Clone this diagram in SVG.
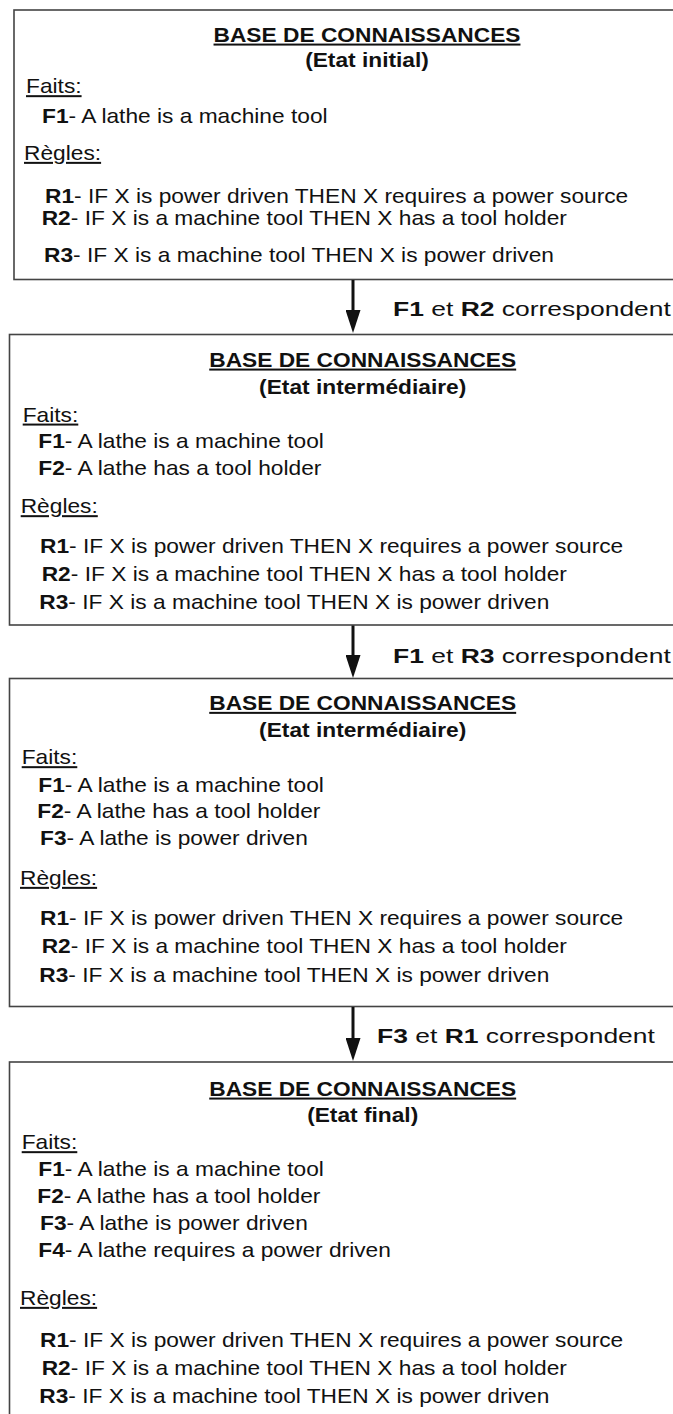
<svg xmlns="http://www.w3.org/2000/svg" width="673" height="1414" viewBox="0 0 673 1414">
<style>
.t{font-family:"Liberation Sans",Arial,Helvetica,sans-serif;font-size:20px;fill:#111}
.b{font-weight:bold}
.u{text-decoration:underline}
.box{fill:#fff;stroke:#444;stroke-width:1.6}
.lbl{font-family:"Liberation Sans",Arial,Helvetica,sans-serif;font-size:21px;fill:#111}
.conn{stroke:#111;stroke-width:3;fill:none}
</style>
<defs>
<marker id="ah" viewBox="0 0 23 15" refX="10" refY="7.5" markerWidth="23" markerHeight="15" markerUnits="userSpaceOnUse" orient="auto">
<path d="M0,0 L23,7.5 L0,15 z" fill="#111"/>
</marker>
</defs>
<rect width="673" height="1414" fill="#fff"/>

<g id="kb1">
<rect class="box" x="14" y="10" width="690" height="269.5"/>
<text class="t b u" text-anchor="middle" transform="translate(367,41.7) scale(1.137,1)">BASE DE CONNAISSANCES</text>
<text class="t b" text-anchor="middle" transform="translate(367,67) scale(1.137,1)">(Etat initial)</text>
<text class="t u" transform="translate(26,93.3) scale(1.137,1)">Faits:</text>
<text class="t" transform="translate(42,122.7) scale(1.137,1)"><tspan class="b">F1</tspan>- A lathe is a machine tool</text>
<text class="t u" transform="translate(24,160) scale(1.137,1)">Règles:</text>
<text class="t" transform="translate(45,202.7) scale(1.137,1)"><tspan class="b">R1</tspan>- IF X is power driven THEN X requires a power source</text>
<text class="t" transform="translate(41.7,225) scale(1.137,1)"><tspan class="b">R2</tspan>- IF X is a machine tool THEN X has a tool holder</text>
<text class="t" transform="translate(44,261.7) scale(1.137,1)"><tspan class="b">R3</tspan>- IF X is a machine tool THEN X is power driven</text>
</g>

<g id="kb2">
<rect class="box" x="9.5" y="334.5" width="700" height="290.5"/>
<text class="t b u" text-anchor="middle" transform="translate(362.7,366.7) scale(1.137,1)">BASE DE CONNAISSANCES</text>
<text class="t b" text-anchor="middle" transform="translate(362.7,394) scale(1.137,1)">(Etat intermédiaire)</text>
<text class="t u" transform="translate(22.7,421.7) scale(1.137,1)">Faits:</text>
<text class="t" transform="translate(38.3,448) scale(1.137,1)"><tspan class="b">F1</tspan>- A lathe is a machine tool</text>
<text class="t" transform="translate(38.3,475) scale(1.137,1)"><tspan class="b">F2</tspan>- A lathe has a tool holder</text>
<text class="t u" transform="translate(20.7,513.3) scale(1.137,1)">Règles:</text>
<text class="t" transform="translate(40,552.7) scale(1.137,1)"><tspan class="b">R1</tspan>- IF X is power driven THEN X requires a power source</text>
<text class="t" transform="translate(41.7,581) scale(1.137,1)"><tspan class="b">R2</tspan>- IF X is a machine tool THEN X has a tool holder</text>
<text class="t" transform="translate(39.3,609.3) scale(1.137,1)"><tspan class="b">R3</tspan>- IF X is a machine tool THEN X is power driven</text>
</g>

<g id="kb3">
<rect class="box" x="9.5" y="678.5" width="700" height="328"/>
<text class="t b u" text-anchor="middle" transform="translate(362.7,710) scale(1.137,1)">BASE DE CONNAISSANCES</text>
<text class="t b" text-anchor="middle" transform="translate(362.7,737) scale(1.137,1)">(Etat intermédiaire)</text>
<text class="t u" transform="translate(21.7,764.3) scale(1.137,1)">Faits:</text>
<text class="t" transform="translate(38.3,791.7) scale(1.137,1)"><tspan class="b">F1</tspan>- A lathe is a machine tool</text>
<text class="t" transform="translate(37.3,818.3) scale(1.137,1)"><tspan class="b">F2</tspan>- A lathe has a tool holder</text>
<text class="t" transform="translate(40,845) scale(1.137,1)"><tspan class="b">F3</tspan>- A lathe is power driven</text>
<text class="t u" transform="translate(20,885) scale(1.137,1)">Règles:</text>
<text class="t" transform="translate(40,925) scale(1.137,1)"><tspan class="b">R1</tspan>- IF X is power driven THEN X requires a power source</text>
<text class="t" transform="translate(41.7,953.3) scale(1.137,1)"><tspan class="b">R2</tspan>- IF X is a machine tool THEN X has a tool holder</text>
<text class="t" transform="translate(39.3,981.7) scale(1.137,1)"><tspan class="b">R3</tspan>- IF X is a machine tool THEN X is power driven</text>
</g>

<g id="kb4">
<rect class="box" x="9.5" y="1062" width="700" height="400"/>
<text class="t b u" text-anchor="middle" transform="translate(362.7,1095.7) scale(1.137,1)">BASE DE CONNAISSANCES</text>
<text class="t b" text-anchor="middle" transform="translate(362.7,1122) scale(1.137,1)">(Etat final)</text>
<text class="t u" transform="translate(21.7,1149.3) scale(1.137,1)">Faits:</text>
<text class="t" transform="translate(38.3,1175.7) scale(1.137,1)"><tspan class="b">F1</tspan>- A lathe is a machine tool</text>
<text class="t" transform="translate(37.3,1202.7) scale(1.137,1)"><tspan class="b">F2</tspan>- A lathe has a tool holder</text>
<text class="t" transform="translate(40,1230) scale(1.137,1)"><tspan class="b">F3</tspan>- A lathe is power driven</text>
<text class="t" transform="translate(38.3,1257.3) scale(1.137,1)"><tspan class="b">F4</tspan>- A lathe requires a power driven</text>
<text class="t u" transform="translate(20,1305) scale(1.137,1)">Règles:</text>
<text class="t" transform="translate(40,1346.7) scale(1.137,1)"><tspan class="b">R1</tspan>- IF X is power driven THEN X requires a power source</text>
<text class="t" transform="translate(41.7,1375) scale(1.137,1)"><tspan class="b">R2</tspan>- IF X is a machine tool THEN X has a tool holder</text>
<text class="t" transform="translate(39.3,1403.3) scale(1.137,1)"><tspan class="b">R3</tspan>- IF X is a machine tool THEN X is power driven</text>
</g>

<g id="connectors">
<line class="conn" x1="353" y1="280" x2="353" y2="320" marker-end="url(#ah)"/>
<text class="lbl" transform="translate(393,316) scale(1.26,1)"><tspan font-weight="bold">F1</tspan> et <tspan font-weight="bold">R2</tspan> correspondent</text>
<line class="conn" x1="353" y1="625.5" x2="353" y2="665" marker-end="url(#ah)"/>
<text class="lbl" transform="translate(393,662.7) scale(1.26,1)"><tspan font-weight="bold">F1</tspan> et <tspan font-weight="bold">R3</tspan> correspondent</text>
<line class="conn" x1="353" y1="1007" x2="353" y2="1048" marker-end="url(#ah)"/>
<text class="lbl" transform="translate(377,1042.7) scale(1.26,1)"><tspan font-weight="bold">F3</tspan> et <tspan font-weight="bold">R1</tspan> correspondent</text>
</g>
</svg>
